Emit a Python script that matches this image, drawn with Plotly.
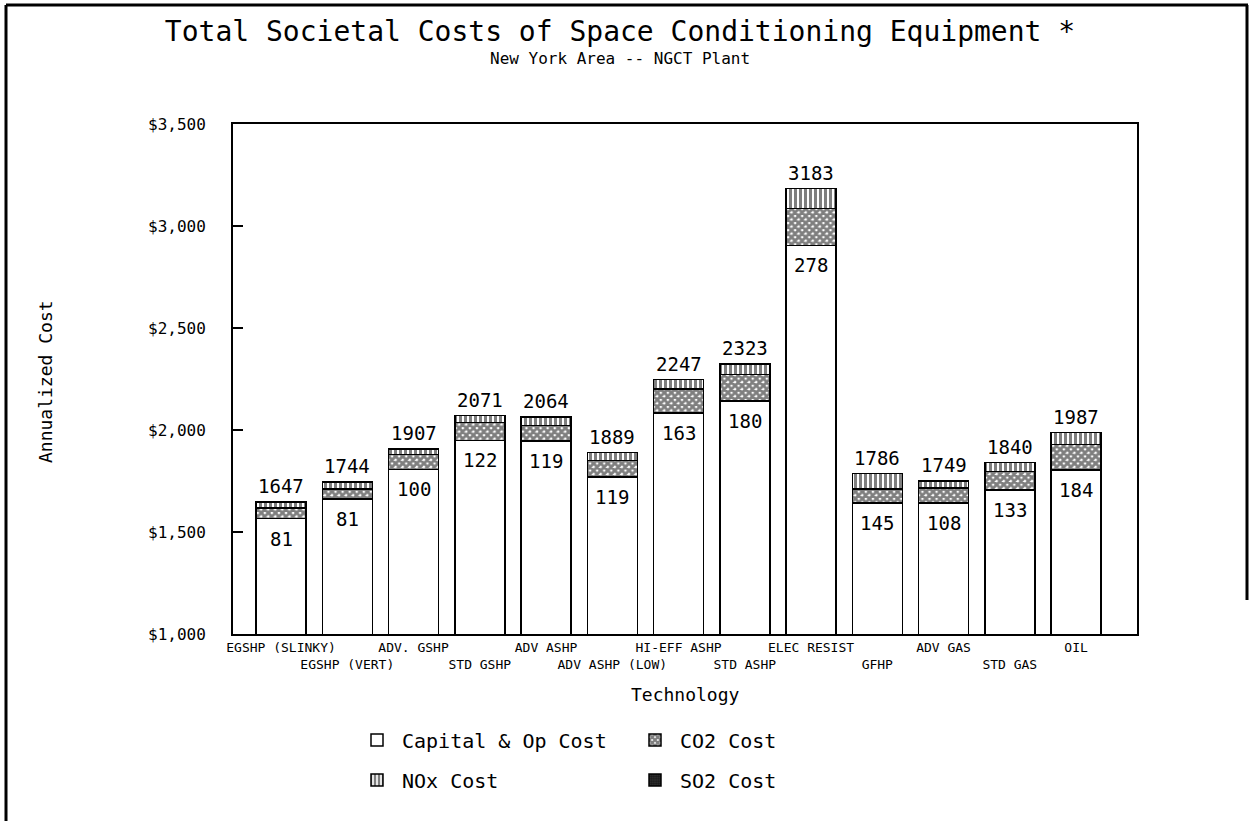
import plotly.graph_objects as go

# Technology categories (left to right)
technologies = ["EGSHP (SLINKY)", "EGSHP (VERT)", "ADV. GSHP", "STD GSHP", "ADV ASHP",
                "ADV ASHP (LOW)", "HI-EFF ASHP", "STD ASHP", "ELEC RESIST", "GFHP",
                "ADV GAS", "STD GAS", "OIL"]

# annualized cost components ($)
capital_op = [1566, 1663, 1807, 1949, 1945, 1770, 2084, 2143, 2905, 1641, 1641, 1707, 1803]
co2_cost = [52, 47, 72, 88, 78, 80, 116, 130, 182, 70, 75, 89, 126]
so2_cost = [0, 0, 0, 0, 0, 0, 0, 0, 0, 0, 0, 0, 0]
nox_cost = [29, 34, 28, 34, 41, 39, 47, 50, 96, 75, 33, 44, 58]

# labels printed on the chart
total_labels = [1647, 1744, 1907, 2071, 2064, 1889, 2247, 2323, 3183, 1786, 1749, 1840, 1987]
env_labels = [81, 81, 100, 122, 119, 119, 163, 180, 278, 145, 108, 133, 184]

FONT = "DejaVu Sans Mono"
W, H = 1250, 821
L, R, T, B = 233, 113, 124, 187
PW, PH = W - L - R, H - T - B


def px_x(x):
    return (x - L) / PW


def px_y(y):
    return (H - B - y) / PH


outline = dict(color="black", width=1.5)
bw = 0.755

fig = go.Figure()
fig.add_trace(go.Bar(x=technologies, y=capital_op, name="Capital & Op Cost", width=bw,
                     marker=dict(color="white", line=outline), legend="legend",
                     showlegend=True))
fig.add_trace(go.Bar(x=technologies, y=co2_cost, name="CO2 Cost", width=bw,
                     marker=dict(color="white", line=outline,
                                 pattern=dict(shape="x", fgcolor="black", bgcolor="white",
                                              size=5, solidity=0.8)), legend="legend2"))
fig.add_trace(go.Bar(x=technologies, y=so2_cost, name="SO2 Cost", width=bw,
                     marker=dict(color="black", line=outline,
                                 pattern=dict(shape=".", fgcolor="black", bgcolor="#333",
                                              size=3, solidity=0.6)), legend="legend4"))
fig.add_trace(go.Bar(x=technologies, y=nox_cost, name="NOx Cost", width=bw,
                     marker=dict(color="white", line=outline,
                                 pattern=dict(shape="|", fgcolor="black", bgcolor="white",
                                              size=5, solidity=0.6)), legend="legend3"))

num_font = dict(family=FONT, size=19, color="black")
annotations = []
for tech, tot, cap, env in zip(technologies, total_labels, capital_op, env_labels):
    annotations.append(dict(x=tech, y=tot, text=str(tot), showarrow=False,
                            xanchor="center", yanchor="bottom", yshift=3, font=num_font))
    annotations.append(dict(x=tech, y=cap, text=str(env), showarrow=False,
                            xanchor="center", yanchor="top", yshift=-7, font=num_font))

annotations += [
    dict(text="New York Area -- NGCT Plant", xref="paper", yref="paper",
         x=px_x(620), y=px_y(58), xanchor="center", yanchor="middle", showarrow=False,
         font=dict(family=FONT, size=16, color="black")),
    dict(text="Annualized Cost", xref="paper", yref="paper", textangle=-90,
         x=px_x(45), y=px_y(382), xanchor="center", yanchor="middle", showarrow=False,
         font=dict(family=FONT, size=18, color="black")),
    dict(text="Technology", xref="paper", yref="paper",
         x=px_x(685), y=px_y(694), xanchor="center", yanchor="middle", showarrow=False,
         font=dict(family=FONT, size=18, color="black")),
]

# staggered category labels, two rows
ticktext = [t if i % 2 == 0 else "<br>" + t for i, t in enumerate(technologies)]

leg = dict(bgcolor="rgba(0,0,0,0)", font=dict(family=FONT, size=20, color="black"),
           xanchor="left", yanchor="middle", itemwidth=40)

fig.update_layout(
    width=W, height=H,
    margin=dict(l=L, r=R, t=T, b=B),
    paper_bgcolor="white", plot_bgcolor="white",
    barmode="stack", showlegend=True,
    font=dict(family=FONT, color="black"),
    title=dict(text="Total Societal Costs of Space Conditioning Equipment *",
               x=(620 / W), xanchor="center", y=1 - 31 / H, yanchor="middle",
               font=dict(family=FONT, size=28, color="black")),
    xaxis=dict(range=[-0.725, 12.92], tickmode="array", tickvals=technologies,
               ticktext=ticktext, tickangle=0, ticks="",
               tickfont=dict(family=FONT, size=13, color="black"),
               showline=True, linecolor="black", linewidth=2, mirror=True, showgrid=False),
    yaxis=dict(range=[1000, 3500], dtick=500, tickprefix="$", tickformat=",",
               ticks="inside", ticklen=10, tickwidth=1.5, tickcolor="black",
               ticklabelstandoff=22,
               tickfont=dict(family=FONT, size=16, color="black"),
               showline=True, linecolor="black", linewidth=2, mirror=True,
               showgrid=False, zeroline=False),
    legend=dict(x=px_x(352), y=px_y(740), **leg),
    legend2=dict(x=px_x(630), y=px_y(740), **leg),
    legend3=dict(x=px_x(352), y=px_y(780), **leg),
    legend4=dict(x=px_x(630), y=px_y(780), **leg),
    annotations=annotations,
    shapes=[
        dict(type="line", xref="paper", yref="paper", x0=px_x(6), x1=px_x(1248),
             y0=px_y(5), y1=px_y(5), line=dict(color="black", width=3)),
        dict(type="line", xref="paper", yref="paper", x0=px_x(6), x1=px_x(6),
             y0=px_y(5), y1=px_y(821), line=dict(color="black", width=3)),
        dict(type="line", xref="paper", yref="paper", x0=px_x(1247), x1=px_x(1247),
             y0=px_y(5), y1=px_y(600), line=dict(color="black", width=3)),
    ],
)

# remove the default page margin so the figure sits at the window origin
fig.write_html("out.html", config={"displayModeBar": False},
               post_script="document.body.style.margin='0';")
